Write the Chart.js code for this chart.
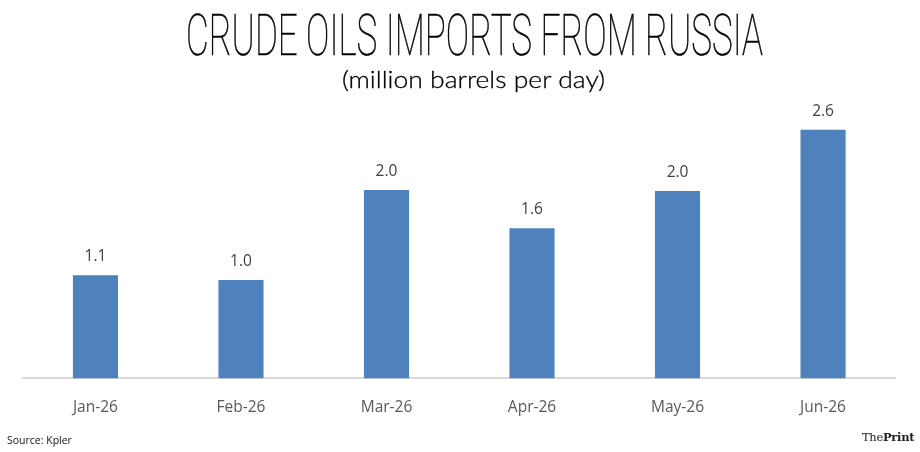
<!DOCTYPE html>
<html>
<head>
<meta charset="utf-8">
<script src="https://cdn.jsdelivr.net/npm/chart.js@4.4.0/dist/chart.umd.min.js"></script>
<style>
  html, body { margin:0; padding:0; background:#fff; }
  #wrap { position:relative; width:920px; height:452px; overflow:hidden; background:#fff; }
  #c { position:absolute; left:0; top:0; }
  .t { position:absolute; white-space:nowrap; }
  #title { left:0; top:6px; font-family:"Roboto"; font-weight:100; font-size:58px; color:#000; transform-origin:0 0; line-height:1; -webkit-text-stroke:0.6px #000; }
  #sub { left:0; top:67px; font-family:"Lato"; font-weight:300; font-size:24px; color:#000; line-height:1; transform-origin:0 0; -webkit-text-stroke:0.3px #000; }
  #src { left:7px; top:433px; font-family:"Open Sans"; font-size:10.5px; color:#111; }
  #logo { left:862px; top:430px; font-family:"DejaVu Serif"; font-size:11.5px; color:#222; letter-spacing:-0.3px; }
</style>
</head>
<body>
<div id="wrap">
  <canvas id="c" width="920" height="452"></canvas>
  <div class="t" id="title">CRUDE OILS IMPORTS FROM RUSSIA</div>
  <div class="t" id="sub">(million barrels per day)</div>
  <div class="t" id="src">Source: Kpler</div>
  <div class="t" id="logo">The<b>Print</b></div>
</div>
<script>
const categories = ["Jan-26", "Feb-26", "Mar-26", "Apr-26", "May-26", "Jun-26"];
const imports = [1.08, 1.03, 1.97, 1.57, 1.96, 2.6];

function fitText(id, left, width) {
  const el = document.getElementById(id);
  const w = el.getBoundingClientRect().width;
  el.style.left = left + "px";
  el.style.transform = "scaleX(" + (width / w) + ")";
}
fitText("title", 186, 577);
fitText("sub", 342, 263);

const valueLabels = {
  id: "valueLabels",
  afterDatasetsDraw(chart) {
    const ctx = chart.ctx;
    const meta = chart.getDatasetMeta(0);
    ctx.save();
    ctx.font = "15.5px 'Open Sans'";
    ctx.fillStyle = "#404040";
    ctx.textAlign = "center";
    ctx.textBaseline = "bottom";
    meta.data.forEach((bar, i) => {
      ctx.fillText(imports[i].toFixed(1), bar.x, bar.y - 11);
    });
    ctx.restore();
  }
};

new Chart(document.getElementById("c"), {
  type: "bar",
  data: {
    labels: categories,
    datasets: [{
      data: imports,
      backgroundColor: "#4f81bd",
      barPercentage: 0.31,
      categoryPercentage: 1.0
    }]
  },
  options: {
    responsive: false,
    animation: false,
    layout: { padding: { left: 22.7, right: 24.2, top: 91.6, bottom: 23 } },
    plugins: { legend: { display: false }, title: { display: false }, tooltip: { enabled: false } },
    scales: {
      x: {
        grid: { display: false },
        border: { display: true, color: "#d9d9d9", width: 2 },
        ticks: { color: "#595959", font: { family: "Open Sans", size: 15.5 }, padding: 12 }
      },
      y: {
        display: false,
        min: 0,
        max: 3
      }
    }
  },
  plugins: [valueLabels]
});
</script>
</body>
</html>
